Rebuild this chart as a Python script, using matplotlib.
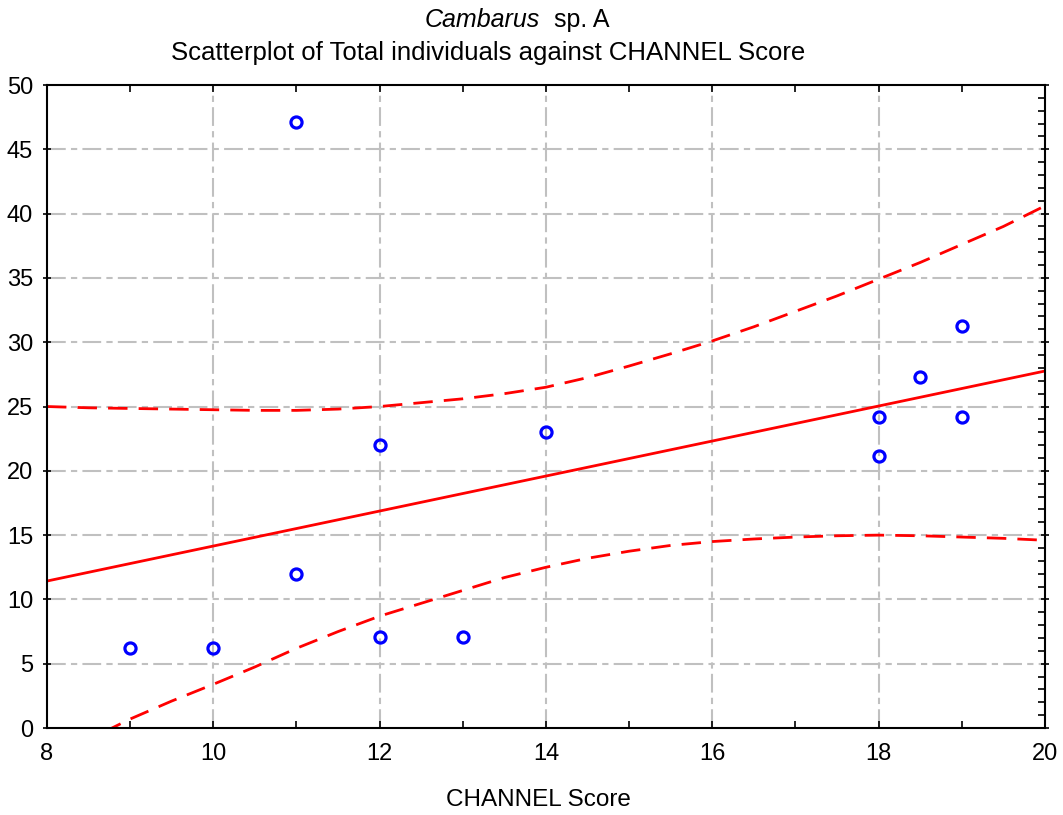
import matplotlib
matplotlib.use("Agg")
import matplotlib.pyplot as plt
from matplotlib.ticker import MultipleLocator

plt.rcParams['font.family'] = ['Liberation Sans', 'DejaVu Sans']

# Observations: channel score vs total individuals
channel_score = [9, 10, 11, 11, 12, 12, 13, 14, 18, 18, 18.5, 19, 19]
total_individuals = [6.2, 6.2, 47.1, 12.0, 22.0, 7.1, 7.1, 23.0, 24.2, 21.15, 27.3, 31.25, 24.2]

# Fitted regression line (end points)
fit_x = [8, 20]
fit_y = [11.43, 27.76]

# 95% confidence bands
band_x = [8, 8.5, 9, 9.5, 10, 10.5, 11, 11.5, 12, 12.5, 13, 13.5, 14, 14.5,
          15, 15.5, 16, 16.5, 17, 17.5, 18, 18.5, 19, 19.5, 20]
band_upper = [25.0, 24.9, 24.85, 24.8, 24.75, 24.7, 24.7, 24.8, 25.0, 25.3, 25.6, 26.0,
              26.5, 27.25, 28.15, 29.1, 30.1, 31.2, 32.4, 33.6, 34.9, 36.2, 37.6, 39.0, 40.6]
band_lower = [-2.2, -0.9, 0.7, 2.1, 3.4, 4.75, 6.2, 7.5, 8.7, 9.7, 10.7, 11.7,
              12.5, 13.2, 13.75, 14.2, 14.5, 14.7, 14.85, 14.95, 15.0, 14.95, 14.85, 14.75, 14.6]

fig = plt.figure(figsize=(10.63, 8.15), dpi=100)
ax = fig.add_axes([0.0442, 0.1067, 0.9388, 0.789])

ax.set_xlim(8, 20)
ax.set_ylim(0, 50)

grid_kw = dict(color='#c0c0c0', linewidth=1.5, dashes=(9, 2.5, 3, 2.5), zorder=0)
for gx in [10, 12, 14, 16, 18]:
    ax.axvline(gx, **grid_kw)
for gy in range(5, 50, 5):
    ax.axhline(gy, **grid_kw)

red = '#ff0000'
ax.plot(fit_x, fit_y, color=red, linewidth=2, zorder=2)
ax.plot(band_x, band_upper, color=red, linewidth=2, dashes=(7, 4), zorder=2)
ax.plot(band_x, band_lower, color=red, linewidth=2, dashes=(7, 4), zorder=2)

ax.plot(channel_score, total_individuals, linestyle='none', marker='o',
        markersize=8, markerfacecolor='none', markeredgecolor='#0000ff',
        markeredgewidth=2.3, zorder=3)

for s in ax.spines.values():
    s.set_linewidth(1.5)
    s.set_color('black')

ax.xaxis.set_major_locator(MultipleLocator(2))
ax.xaxis.set_minor_locator(MultipleLocator(1))
ax.yaxis.set_major_locator(MultipleLocator(5))
ax.yaxis.set_minor_locator(MultipleLocator(1))

ax.tick_params(axis='x', which='both', direction='in', top=True, bottom=True,
               length=5, width=1.2, labelsize=17, pad=11)
ax.tick_params(axis='y', which='major', direction='inout', left=True, right=True,
               length=6, width=1.2, labelsize=17, pad=7)
ax.tick_params(axis='y', which='minor', direction='in', left=False, right=True,
               length=5, width=1.2)

ax.set_xlabel('CHANNEL Score', fontsize=17.5)
ax.xaxis.set_label_coords(0.492, -0.095)

fig.text(0.508, 0.976, 'Cambarus', fontsize=18, fontstyle='italic', ha='right', va='center')
fig.text(0.508, 0.976, '  sp. A', fontsize=18, ha='left', va='center')
fig.text(0.459, 0.935, 'Scatterplot of Total individuals against CHANNEL Score',
         fontsize=18.5, ha='center', va='center')

fig.savefig('out.png', dpi=100)
